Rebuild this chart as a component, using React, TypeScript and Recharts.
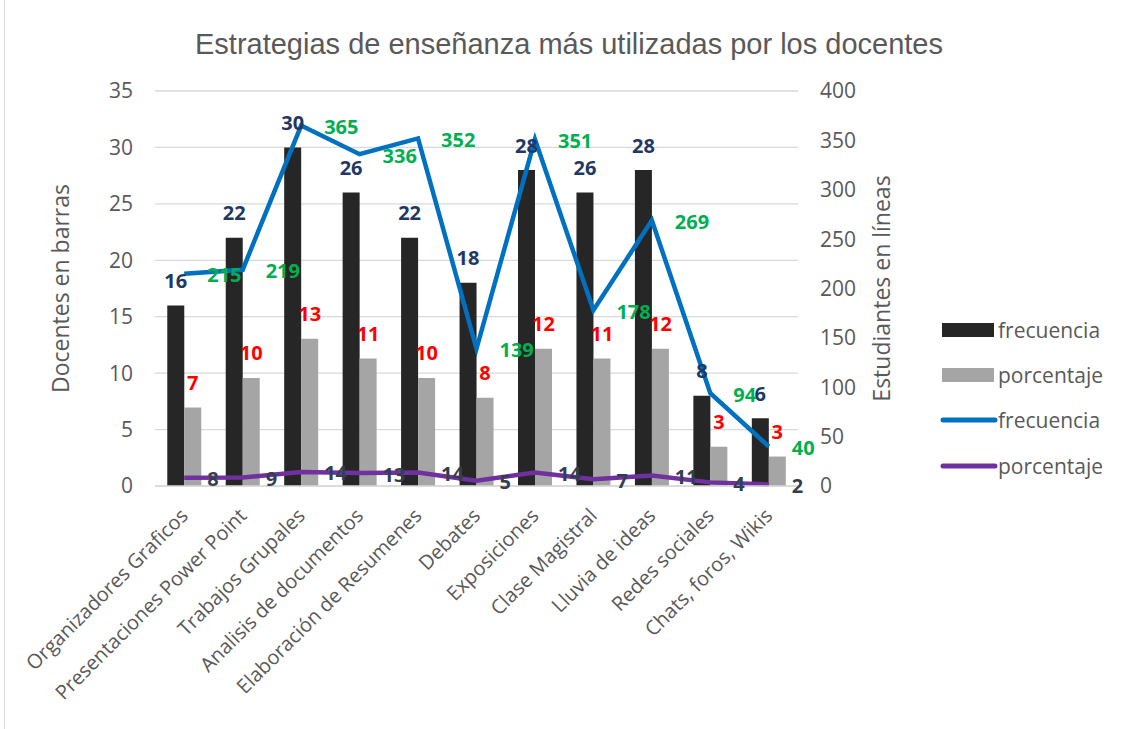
import React from 'react';
import {
  ComposedChart,
  Bar,
  Line,
  XAxis,
  YAxis,
  CartesianGrid,
  Legend,
  LabelList,
  Label,
} from 'recharts';

const categories = [
  'Organizadores Graficos',
  'Presentaciones Power Point',
  'Trabajos Grupales',
  'Analisis de documentos',
  'Elaboración de Resumenes',
  'Debates',
  'Exposiciones',
  'Clase Magistral',
  'Lluvia de ideas',
  'Redes sociales',
  'Chats, foros, Wikis',
];
const docentesFrecuencia = [16, 22, 30, 26, 22, 18, 28, 26, 28, 8, 6];
const docentesPorcentaje = [6.96, 9.57, 13.04, 11.3, 9.57, 7.83, 12.17, 11.3, 12.17, 3.48, 2.61];
const estudiantesFrecuencia = [215, 219, 365, 336, 352, 139, 351, 178, 269, 94, 40];
const estudiantesPorcentaje = [8.41, 8.56, 14.27, 13.14, 13.76, 5.43, 13.72, 6.96, 10.52, 3.67, 1.56];
const leftTicks = [0, 5, 10, 15, 20, 25, 30, 35];
const rightTicks = [0, 50, 100, 150, 200, 250, 300, 350, 400];

const data = categories.map((name, i) => ({
  name,
  dFrec: docentesFrecuencia[i],
  dPorc: docentesPorcentaje[i],
  eFrec: estudiantesFrecuencia[i],
  ePorc: estudiantesPorcentaje[i],
}));

const FONT = '"Open Sans", Lato, sans-serif';
const GRAY = '#595959';

const XTick = (props: any) => {
  const { x, y, payload } = props;
  return (
    <g transform={`translate(${x + 5},${y + 31})`}>
      <text
        x={0}
        y={0}
        textAnchor="end"
        transform="rotate(-45)"
        fill={GRAY}
        fontSize={20}
        fontFamily={FONT}
      >
        {payload.value}
      </text>
    </g>
  );
};

const barLabel = (color: string) => (props: any) => {
  const { x, y, width, value } = props;
  return (
    <text
      x={x + width / 2}
      y={y - 25}
      textAnchor="middle"
      dominantBaseline="central"
      fill={color}
      fontSize={20}
      fontWeight="bold"
      fontFamily={FONT}
    >
      {Math.round(value)}
    </text>
  );
};

const lineLabel = (color: string) => (props: any) => {
  const { x, y, value, index } = props;
  return (
    <text
      key={`l-${color}-${index}`}
      x={x + 23}
      y={y + 1}
      textAnchor="start"
      dominantBaseline="central"
      fill={color}
      fontSize={20}
      fontWeight="bold"
      fontFamily={FONT}
    >
      {Math.round(value)}
    </text>
  );
};

const LegendContent = (props: any) => {
  const payload = [...(props.payload || [])].sort(
    (a: any, b: any) => (a.type === 'line' ? 1 : 0) - (b.type === 'line' ? 1 : 0)
  );
  return (
    <div style={{ fontFamily: FONT, fontSize: 21, color: GRAY }}>
      {payload.map((item: any, i: number) => (
        <div key={i} style={{ display: 'flex', alignItems: 'center', height: 45.3 }}>
          <svg width={62} height={20} style={{ display: 'block' }}>
            {item.type === 'line' ? (
              <line x1={7} y1={10} x2={59} y2={10} stroke={item.color} strokeWidth={5} strokeLinecap="round" />
            ) : (
              <rect x={6} y={3} width={52} height={14} fill={item.color} />
            )}
          </svg>
          <span style={{ marginLeft: 0 }}>{item.value}</span>
        </div>
      ))}
    </div>
  );
};

export default function App() {
  return (
    <div style={{ position: 'absolute', left: 0, top: 0, width: 1126, height: 729, background: '#fff' }}>
      <div
        style={{
          position: 'absolute',
          left: 4,
          top: 0,
          width: 0,
          height: 729,
          borderLeft: '1px solid #d9d9d9',
        }}
      />
      <div
        style={{
          position: 'absolute',
          left: 6,
          top: 28,
          width: 1126,
          textAlign: 'center',
          fontFamily: '"Liberation Sans", Arial, sans-serif',
          fontSize: 29,
          lineHeight: '32px',
          color: GRAY,
          zIndex: 2,
        }}
      >
        Estrategias de enseñanza más utilizadas por los docentes
      </div>
      <ComposedChart
        width={1126}
        height={729}
        data={data}
        margin={{ top: 91, right: 160, bottom: 0, left: 0 }}
        barCategoryGap="21%"
        barGap={0}
      >
        <CartesianGrid yAxisId="left" vertical={false} stroke="#D9D9D9" strokeWidth={1.3} />
        <XAxis
          dataKey="name"
          interval={0}
          height={243}
          tickLine={false}
          tickSize={0}
          tickMargin={0}
          axisLine={{ stroke: '#D9D9D9', strokeWidth: 1.3 }}
          tick={<XTick />}
        />
        <YAxis
          yAxisId="left"
          orientation="left"
          width={155}
          domain={[0, 35]}
          ticks={leftTicks}
          axisLine={false}
          tickLine={false}
          tickSize={0}
          tickMargin={22}
          tick={{ fill: GRAY, fontSize: 21, fontFamily: FONT }}
        >
          <Label
            value="Docentes en barras"
            angle={-90}
            position="center"
            dx={-17}
            style={{ fill: GRAY, fontSize: 23, fontFamily: FONT }}
          />
        </YAxis>
        <YAxis
          yAxisId="right"
          orientation="right"
          width={168}
          domain={[0, 400]}
          ticks={rightTicks}
          axisLine={false}
          tickLine={false}
          tickSize={0}
          tickMargin={22}
          tick={{ fill: GRAY, fontSize: 21, fontFamily: FONT, textAnchor: 'start' }}
        >
          <Label
            value="Estudiantes en líneas"
            angle={-90}
            position="center"
            dx={0}
            style={{ fill: GRAY, fontSize: 23, fontFamily: FONT }}
          />
        </YAxis>
        <Legend
          layout="vertical"
          align="center"
          verticalAlign="middle"
          wrapperStyle={{ left: 936, top: 307, width: 190 }}
          content={<LegendContent />}
        />
        <Bar yAxisId="left" dataKey="dFrec" name="frecuencia" fill="#262626" isAnimationActive={false} legendType="rect">
          <LabelList dataKey="dFrec" content={barLabel('#1F3864')} />
        </Bar>
        <Bar yAxisId="left" dataKey="dPorc" name="porcentaje" fill="#A5A5A5" isAnimationActive={false} legendType="rect">
          <LabelList dataKey="dPorc" content={barLabel('#FF0000')} />
        </Bar>
        <Line
          yAxisId="right"
          type="linear"
          dataKey="eFrec"
          name="frecuencia"
          stroke="#0070C0"
          strokeWidth={4.5}
          dot={false}
          isAnimationActive={false}
          legendType="line"
          label={lineLabel('#00B050')}
        />
        <Line
          yAxisId="right"
          type="linear"
          dataKey="ePorc"
          name="porcentaje"
          stroke="#7030A0"
          strokeWidth={4.5}
          dot={false}
          isAnimationActive={false}
          legendType="line"
          label={lineLabel('#333F50')}
        />
      </ComposedChart>
    </div>
  );
}
